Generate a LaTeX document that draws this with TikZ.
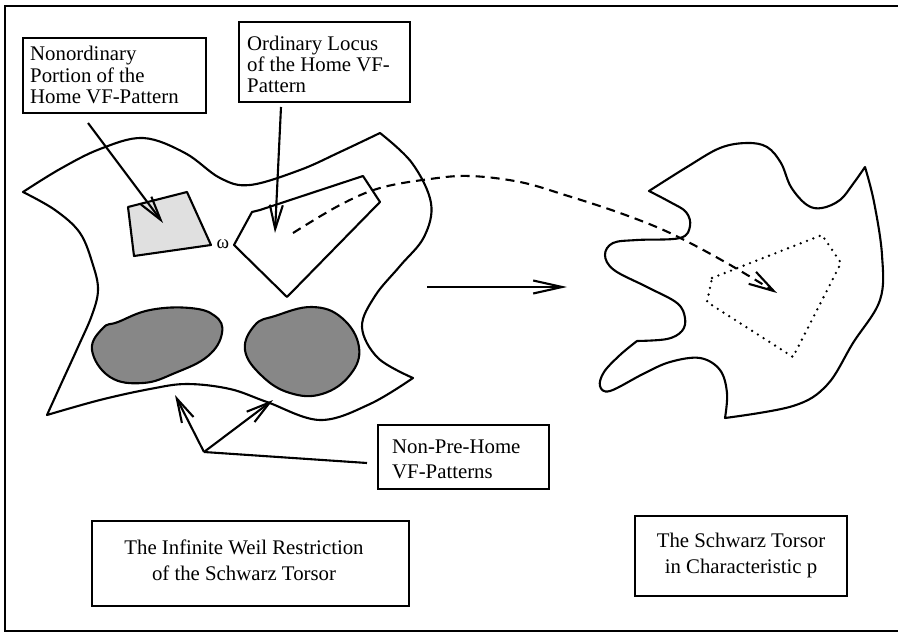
\documentclass[tikz,border=0pt]{standalone}
\usepackage{fontspec}
\setmainfont{Liberation Serif}
\usetikzlibrary{arrows.meta}
\begin{document}
\begin{tikzpicture}[x=1pt,y=-1pt,
  outline/.style={line width=2.1pt,line join=round},
  boxnode/.style={draw,line width=2.1pt,inner sep=0pt},
  barbarrow/.style={line width=2.1pt,-{Straight Barb[length=24pt,width=13pt,line width=2.1pt]}},
  bigbarb/.style={line width=2.1pt,-{Straight Barb[length=29pt,width=13pt,line width=2.1pt]}},
  dashline/.style={line width=2.1pt,dash pattern=on 9pt off 6pt},
  dotline/.style={line width=2.6pt,line cap=round,dash pattern=on 0pt off 6.8pt}]
\useasboundingbox (0,0) rectangle (898,634);
% frame (right edge lies outside the picture)
\draw[line width=2.4pt] (898,6) -- (5,6) -- (5,631) -- (898,631);

% label boxes
\node[boxnode,minimum width=183pt,minimum height=75pt] (b1) at (114.5,75.5) {};
\node[anchor=west,inner sep=0pt,align=left,font=\fontsize{20.8}{21.5}\selectfont] (t1) at (30,75) {Nonordinary\\Portion of the\\Home VF-Pattern};
\node[boxnode,minimum width=171pt,minimum height=80pt] (b2) at (324.5,62) {};
\node[anchor=west,inner sep=0pt,align=left,font=\fontsize{20.8}{21}\selectfont] (t2) at (247,64) {Ordinary Locus\\of the Home VF-\\Pattern};
\node[boxnode,minimum width=171pt,minimum height=64pt] (b3) at (463.5,457) {};
\node[anchor=west,inner sep=0pt,align=left,font=\fontsize{20.8}{25}\selectfont] (t3) at (392,459.5) {Non-Pre-Home\\VF-Patterns};
\node[boxnode,minimum width=317pt,minimum height=85pt] (b4) at (250.5,563.5) {};
\node[inner sep=0pt,align=center,font=\fontsize{20.8}{26}\selectfont] (t4) at (244,560) {The Infinite Weil Restriction\\of the Schwarz Torsor};
\node[boxnode,minimum width=212pt,minimum height=80pt] (b5) at (741,556) {};
\node[inner sep=0pt,align=center,font=\fontsize{20.8}{26}\selectfont] (t5) at (741,555) {The Schwarz Torsor\\in Characteristic p};

% left blob
\draw[outline]
  plot[smooth,tension=0.6] coordinates {(23,192) (60,169) (100,149) (143,138) (185,153) (220,178) (250,185) (300,170) (340,152) (380,133)}
  -- plot[smooth,tension=0.6] coordinates {(380,133) (412,163) (431,203) (424,237) (400,266) (375,296) (362,327) (378,358) (413,378)}
  -- plot[smooth,tension=0.6] coordinates {(413,378) (370,404) (320,420) (267,402) (230,389) (187,384) (150,389) (100,400) (47,415)}
  -- plot[smooth,tension=0.6] coordinates {(47,415) (62,382) (78,347) (92,315) (98,290) (93,265) (80,233) (55,210) (23,192)}
  -- cycle;

% dark blobs
\draw[outline,fill=black!47] plot[smooth cycle,tension=0.7] coordinates {(92,350) (103,328) (118,322) (150,310) (190,308) (215,316) (222,333) (208,356) (175,373) (143,383) (110,377)};
\draw[outline,fill=black!47] plot[smooth cycle,tension=0.7] coordinates {(245,350) (255,325) (275,316) (312,307) (342,318) (359,347) (350,375) (322,394) (290,393) (262,376)};

% light quadrilateral
\draw[outline,fill=black!12] (128,207) -- (187,192) -- (211,245) -- (134,256) -- cycle;

% ordinary locus polygon
\draw[outline] (234,245) -- (252,212) -- (260,210) -- (363,176) -- (380,202) -- (287,297) -- cycle;
\node[inner sep=0pt,font=\fontsize{19}{19}\selectfont] (om) at (223,244) {ω};

% right blob
\draw[outline]
  plot[smooth,tension=0.6] coordinates {(649,191) (687,167) (720,148) (747,143) (767,147) (781,163) (791,187) (807,205) (822,208) (840,200) (853,184) (865,167)}
  -- plot[smooth,tension=0.6] coordinates {(865,167) (874,202) (882,255) (880,300) (853,343) (827,385) (793,406) (725,418)}
  -- plot[smooth,tension=0.6] coordinates {(725,418) (727,393) (720,370) (700,358) (670,362) (643,374) (610,391) (600,386) (604,372) (620,355) (637,341)}
  -- plot[smooth,tension=0.6] coordinates {(637,341) (667,339) (682,331) (685,318) (677,303) (647,287) (614,270) (605,255) (613,243) (637,240) (680,238) (690,226) (686,212) (670,202) (649,191)}
  -- cycle;

% dotted pentagon
\draw[dotline] (712,278) -- (822,235) -- (841,263) -- (793,357) -- (707,302) -- cycle;

% connectors
\coordinate (a1s) at (88,123);
\coordinate (a1e) at (163,223);
\draw[barbarrow] (a1s) -- (a1e);
\coordinate (a2s) at (281,107);
\coordinate (a2e) at (275,233);
\draw[barbarrow] (a2s) -- (a2e);
\coordinate (hs) at (427,287);
\coordinate (he) at (567,287);
\draw[bigbarb] (hs) -- (he);
\coordinate (d1) at (293,233);
\coordinate (d2) at (777,293);
\draw[dashline,-{Straight Barb[length=25pt,width=14pt,line width=2.1pt]}]
  plot[smooth,tension=0.6] coordinates {(d1) (340,205) (380,188) (430,179) (470,176) (520,182) (565,195) (620,213) (670,233) (725,262) (d2)};
\coordinate (c0) at (367,463);
\coordinate (cv) at (204,452);
\coordinate (ce1) at (175,395);
\coordinate (ce2) at (273,400);
\draw[outline] (c0) -- (cv);
\draw[barbarrow] (cv) -- (ce1);
\draw[barbarrow] (cv) -- (ce2);
\end{tikzpicture}
\end{document}
